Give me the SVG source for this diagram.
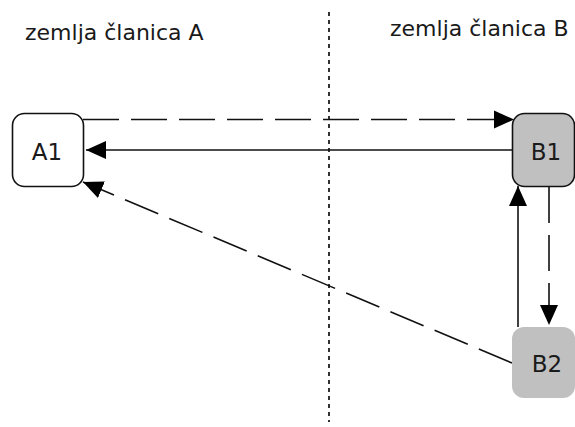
<svg xmlns="http://www.w3.org/2000/svg" width="575" height="427" viewBox="0 0 575 427">
<style>
.lbl{font-family:"DejaVu Sans",sans-serif;font-size:22px;fill:#1a1a1a}
.nt{font-family:"DejaVu Sans",sans-serif;font-size:23px;fill:#1a1a1a;text-anchor:middle}
.ln{stroke:#111;stroke-width:1.6;fill:none}
.dash{stroke-dasharray:36,12}
</style>
<defs>
<marker id="ah" markerUnits="userSpaceOnUse" markerWidth="22" markerHeight="20" viewBox="0 -10 22 20" refX="20" refY="0" orient="auto">
<path d="M0,-9 L20,0 L0,9 Z" fill="#000"/>
</marker>
</defs>
<line x1="329" y1="12" x2="329" y2="422" stroke="#333" stroke-width="2" stroke-dasharray="4,4"/>
<text class="lbl" x="25" y="40">zemlja članica A</text>
<text class="lbl" x="390" y="36">zemlja članica B</text>
<g id="connectors">
<line class="ln dash" x1="83" y1="119.5" x2="514" y2="119.5" marker-end="url(#ah)"/>
<line class="ln" x1="512" y1="150" x2="86" y2="150" marker-end="url(#ah)"/>
<line class="ln dash" x1="512" y1="363" x2="83" y2="182" marker-end="url(#ah)"/>
<line class="ln" x1="518" y1="327" x2="518" y2="186" marker-end="url(#ah)"/>
<line class="ln dash" x1="549" y1="187" x2="549" y2="325" marker-end="url(#ah)"/>
</g>
<g id="A1">
<rect x="12.5" y="113.5" width="71" height="73" rx="12" fill="#fff" stroke="#111" stroke-width="1.6"/>
<text class="nt" x="47" y="160">A1</text>
</g>
<g id="B1">
<rect x="512.5" y="113.5" width="62" height="73" rx="12" fill="#c0c0c0" stroke="#111" stroke-width="1.6"/>
<text class="nt" x="546" y="160">B1</text>
</g>
<g id="B2">
<rect x="512" y="327" width="63" height="71" rx="12" fill="#c0c0c0"/>
<text class="nt" x="547" y="372">B2</text>
</g>
</svg>
